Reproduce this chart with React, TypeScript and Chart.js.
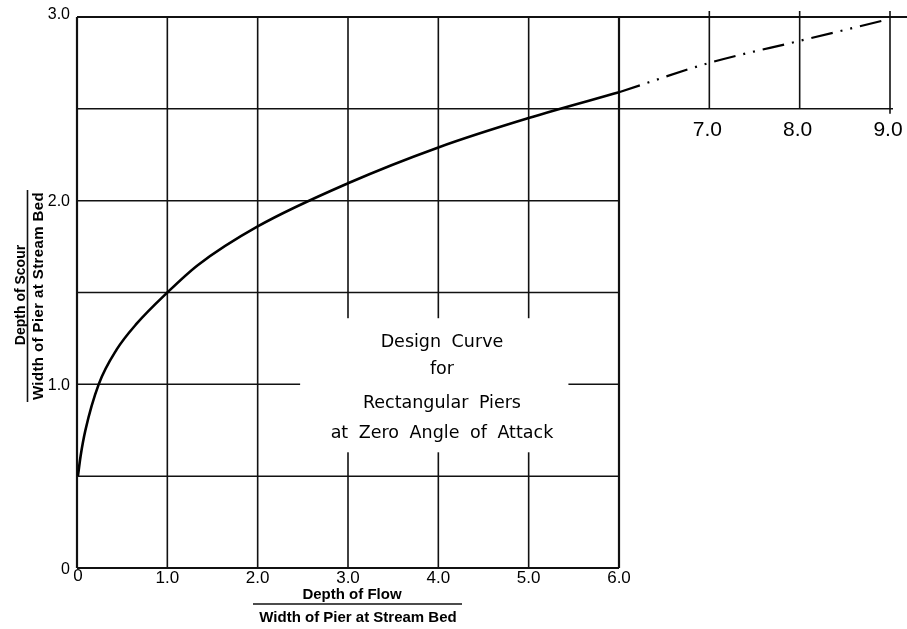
import { useEffect, useRef } from "react";
import { Chart, registerables } from "chart.js";

Chart.register(...registerables);

// Design curve (solid part)
const curveX = [0.01, 0.04, 0.093, 0.24, 0.44, 0.66, 1.0, 1.34, 2.0, 3.0, 4.0, 5.0, 6.0];
const curveY = [0.5, 0.61, 0.75, 1.0, 1.19, 1.33, 1.5, 1.65, 1.86, 2.095, 2.29, 2.45, 2.59];

// Extrapolated part (dash-dot)
const extX = [6.0, 7.0, 8.0, 8.92];
const extY = [2.59, 2.75, 2.87, 2.98];

// Grid / tick values
const mainXTicks = [0, 1, 2, 3, 4, 5, 6];
const mainXLabels = ["0", "1.0", "2.0", "3.0", "4.0", "5.0", "6.0"];
const extXTicks = [7, 8, 9];
const extXLabels = ["7.0", "8.0", "9.0"];
const mainYGrid = [0, 0.5, 1.0, 1.5, 2.0];
const yTicks = [0, 1, 2, 3];
const yLabels = ["0", "1.0", "2.0", "3.0"];

const noteLines = ["Design Curve", "for", "Rectangular Piers", "at Zero Angle of Attack"];
const xTitleTop = "Depth of Flow";
const xTitleBottom = "Width of Pier at Stream Bed";
const yTitleTop = "Depth of Scour";
const yTitleBottom = "Width of Pier at Stream Bed";

const FONT = '"Liberation Sans", Arial, sans-serif';
const NOTE_FONT = '"DejaVu Sans", "Liberation Sans", sans-serif';

export default function App() {
  const ref = useRef<HTMLCanvasElement>(null);

  useEffect(() => {
    const canvas = ref.current!;
    const paper = {
      id: "paper",
      beforeDatasetsDraw(chart: any) {
        const ctx: any = chart.ctx;
        const xs = chart.scales.x;
        const ys = chart.scales.y;
        const X = (v: number) => xs.getPixelForValue(v);
        const Y = (v: number) => ys.getPixelForValue(v);
        const line = (x1: number, y1: number, x2: number, y2: number, w: number) => {
          ctx.beginPath();
          ctx.lineWidth = w;
          ctx.moveTo(x1, y1);
          ctx.lineTo(x2, y2);
          ctx.stroke();
        };
        ctx.save();
        ctx.strokeStyle = "#111";
        ctx.lineCap = "butt";

        // main grid verticals
        mainXTicks.forEach((v) => {
          const w = v === 0 || v === 6 ? 2.2 : 1.6;
          line(X(v), Y(0), X(v), Y(3), w);
        });
        // main grid horizontals
        mainYGrid.forEach((v) => {
          const w = v === 0 ? 2.2 : 1.5;
          line(X(0), Y(v), X(6), Y(v), w);
        });
        // top band horizontals spanning the extension
        line(X(0), Y(2.5), X(9) + 3, Y(2.5), 1.5);
        line(X(0), Y(3.0), X(9) + 17, Y(3.0), 2.0);
        // extension verticals
        extXTicks.forEach((v) => {
          line(X(v), Y(3.0) - 6, X(v), Y(2.5) + (v === 9 ? 5 : 0), 1.6);
        });

        // white box behind the note
        const bx1 = X(2.47), bx2 = X(5.44), by1 = Y(1.36), by2 = Y(0.63);
        ctx.fillStyle = "#fff";
        ctx.fillRect(bx1, by1, bx2 - bx1, by2 - by1);

        // note text
        ctx.fillStyle = "#000";
        ctx.textAlign = "center";
        ctx.textBaseline = "alphabetic";
        ctx.font = `17.5px ${NOTE_FONT}`;
        ctx.wordSpacing = "5px";
        const cx = X(4.04);
        const baselines = [347, 374, 408, 438];
        noteLines.forEach((t, i) => ctx.fillText(t, cx, baselines[i]));
        ctx.wordSpacing = "0px";

        // x tick labels
        ctx.font = `17px ${FONT}`;
        ctx.textBaseline = "middle";
        mainXTicks.forEach((v, i) => {
          if (i === 0) return;
          ctx.fillText(mainXLabels[i], X(v), Y(0) + 10);
        });
        ctx.fillText(mainXLabels[0], X(0) + 1, Y(0) + 8);
        // y tick labels
        ctx.textAlign = "right";
        ctx.font = `16px ${FONT}`;
        yTicks.forEach((v, i) => {
          const dy = v === 3 ? -2 : v === 0 ? 2 : 1;
          ctx.fillText(yLabels[i], X(0) - 7, Y(v) + dy);
        });
        // extension tick labels
        ctx.textAlign = "center";
        ctx.font = `21px ${FONT}`;
        extXTicks.forEach((v, i) => {
          ctx.fillText(extXLabels[i], X(v) - 2, Y(2.5) + 21);
        });

        // x axis title
        ctx.font = `bold 15px ${FONT}`;
        ctx.textBaseline = "alphabetic";
        ctx.fillText(xTitleTop, 352, 599);
        line(253, 604, 462, 604, 1.6);
        ctx.fillText(xTitleBottom, 358, 622);

        // y axis title
        ctx.save();
        ctx.font = `bold 14px ${FONT}`;
        ctx.translate(25, 295);
        ctx.rotate(-Math.PI / 2);
        ctx.fillText(yTitleTop, 0, 0);
        ctx.restore();
        line(27.5, 190, 27.5, 402, 1.6);
        ctx.save();
        ctx.font = `bold 15px ${FONT}`;
        ctx.letterSpacing = "0.4px";
        ctx.translate(43, 296);
        ctx.rotate(-Math.PI / 2);
        ctx.fillText(yTitleBottom, 0, 0);
        ctx.restore();

        ctx.restore();
      },
    };

    const chart = new Chart(canvas, {
      type: "line",
      data: {
        datasets: [
          {
            data: curveX.map((x, i) => ({ x, y: curveY[i] })),
            borderColor: "#000",
            borderWidth: 2.6,
            pointRadius: 0,
            cubicInterpolationMode: "monotone",
            fill: false,
          },
          {
            data: extX.map((x, i) => ({ x, y: extY[i] })),
            borderColor: "#000",
            borderWidth: 2.2,
            borderDash: [22, 8, 2, 8, 2, 8],
            pointRadius: 0,
            cubicInterpolationMode: "monotone",
            fill: false,
          },
        ],
      },
      options: {
        animation: false,
        responsive: false,
        devicePixelRatio: 1,
        events: [],
        layout: { padding: { left: 77, right: 17, top: 17, bottom: 61 } },
        scales: {
          x: { type: "linear", min: 0, max: 9, display: false },
          y: { type: "linear", min: 0, max: 3, display: false },
        },
        plugins: { legend: { display: false }, tooltip: { enabled: false } },
      },
      plugins: [paper],
    } as any);
    return () => chart.destroy();
  }, []);

  return (
    <div style={{ position: "fixed", left: 0, top: 0, width: 907, height: 629, background: "#fff" }}>
      <canvas ref={ref} width={907} height={629} style={{ display: "block", width: 907, height: 629 }} />
    </div>
  );
}
